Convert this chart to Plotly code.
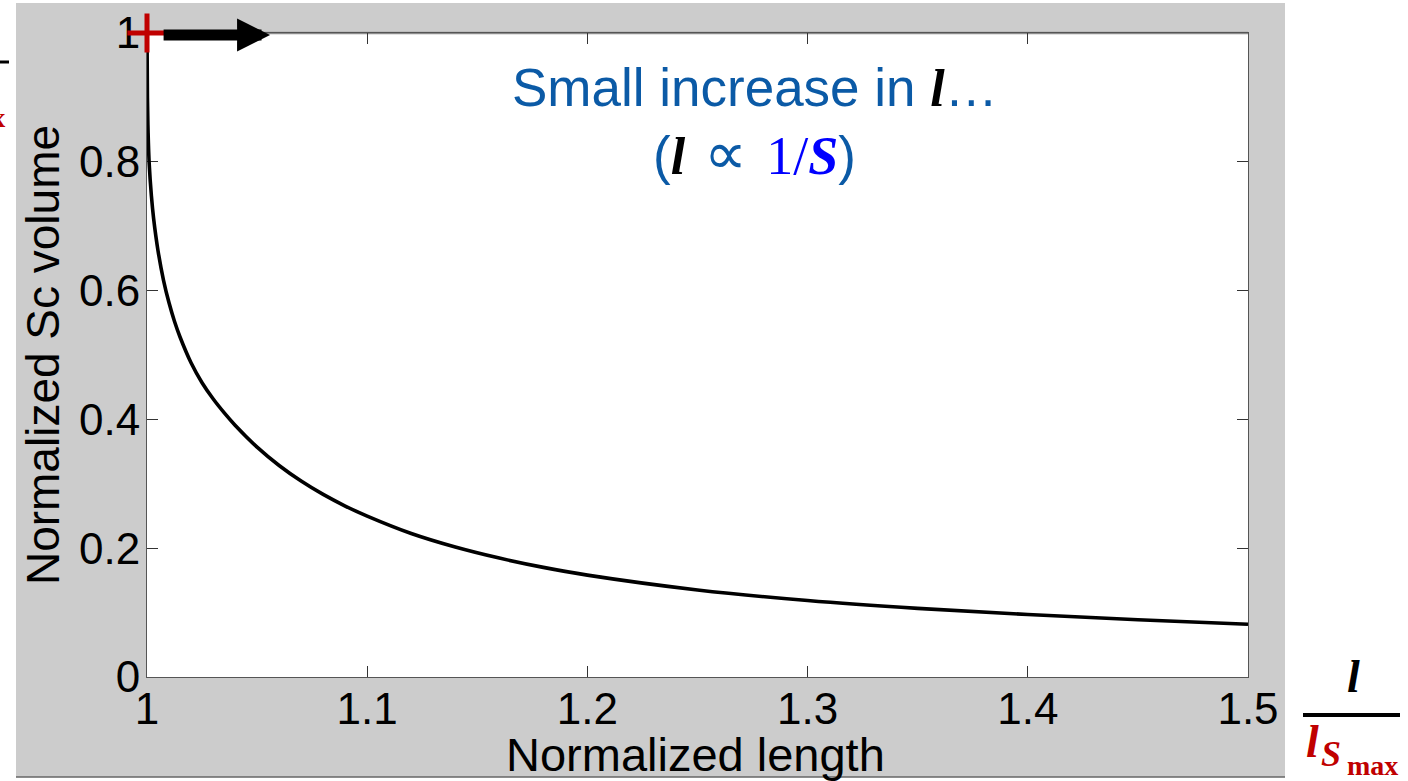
import plotly.graph_objects as go

# Normalized conductor length (l / l_Smax) and the matching normalized Sc volume
length = [1.0, 1.0002, 1.0005, 1.001, 1.002, 1.003, 1.005, 1.0075, 1.01,
          1.0125, 1.015, 1.02, 1.025, 1.03, 1.035, 1.04, 1.05, 1.06, 1.07, 1.08,
          1.09, 1.1, 1.12, 1.14, 1.16, 1.18, 1.2, 1.25, 1.3, 1.35, 1.4,
          1.45, 1.5]
volume = [1.0, 0.90, 0.845, 0.797, 0.747, 0.712, 0.662, 0.616, 0.581,
          0.552, 0.528, 0.488, 0.457, 0.432, 0.4105, 0.391, 0.357, 0.3285, 0.3043,
          0.2835, 0.2655, 0.2498, 0.2228, 0.2018, 0.1846, 0.1702, 0.1582, 0.1352,
          0.1187, 0.1065, 0.097, 0.089, 0.082]

# Starting operating point
start_point = [1.0, 1.0]

x_ticks = [1, 1.1, 1.2, 1.3, 1.4, 1.5]
y_ticks = [0, 0.2, 0.4, 0.6, 0.8, 1]

W, H = 1408, 781
L, R, T, B = 147, 1248, 33, 677   # plot area in pixels


def px_x(p):
    return (p - L) / (R - L)


def px_y(p):
    return (B - p) / (B - T)


SANS = "Liberation Sans, Arial, sans-serif"
SERIF = "Liberation Serif, Times New Roman, serif"
BLUE_TXT = "#0b5aa6"
RED = "#c00000"

fig = go.Figure()

fig.add_trace(go.Scatter(
    x=length, y=volume, mode="lines",
    line=dict(color="black", width=3.6, shape="spline", smoothing=1.0),
    hoverinfo="skip", showlegend=False,
))

fig.add_trace(go.Scatter(
    x=[start_point[0]], y=[start_point[1]], mode="markers",
    marker=dict(symbol="cross-thin", size=28, line=dict(color=RED, width=5)),
    cliponaxis=False, hoverinfo="skip", showlegend=False,
))

axis_common = dict(
    showgrid=False, zeroline=False, showline=True, linecolor="#555555",
    linewidth=1, mirror="ticks", ticks="inside", ticklen=11, tickwidth=1,
    tickcolor="#333333", tickfont=dict(family=SANS, size=44, color="black"),
    layer="below traces",
)

fig.update_xaxes(range=[1, 1.5], tickvals=x_ticks, ticklabelstandoff=-7,
                 **axis_common)
fig.update_yaxes(range=[0, 1], tickvals=y_ticks, ticklabelstandoff=-3,
                 title=dict(text="Normalized Sc volume",
                            font=dict(family=SANS, size=46, color="black"),
                            standoff=4),
                 **axis_common)

shapes = [
    # grey figure panel
    dict(type="rect", xref="paper", yref="paper",
         x0=px_x(16), x1=px_x(1285), y0=px_y(777), y1=px_y(3),
         fillcolor="#cccccc", line=dict(width=0), layer="below"),
    # white axes area
    dict(type="rect", xref="paper", yref="paper", x0=0, x1=1, y0=0, y1=1,
         fillcolor="white", line=dict(width=0), layer="below"),
    # top frame edge
    dict(type="line", xref="paper", yref="paper", x0=0, x1=1, y0=1, y1=1,
         line=dict(color="#8c8c8c", width=2.5), layer="below"),
    # panel bottom edge
    dict(type="line", xref="paper", yref="paper",
         x0=px_x(16), x1=px_x(1285), y0=px_y(777), y1=px_y(777),
         line=dict(color="#666666", width=1.5)),
    # fraction bar of l / l_Smax
    dict(type="line", xref="paper", yref="paper",
         x0=px_x(1303), x1=px_x(1400), y0=px_y(715), y1=px_y(715),
         line=dict(color="black", width=4)),
    # fraction bar at the left margin
    dict(type="line", xref="paper", yref="paper",
         x0=px_x(-20), x1=px_x(9), y0=px_y(62), y1=px_y(62),
         line=dict(color="black", width=3)),
]

l_span = ('<span style="font-family:Liberation Serif;color:black;font-size:52px">'
          '<b><i>l</i></b></span>')
prop_span = '<span style="font-family:DejaVu Sans;font-size:60px"> ∝ </span>'
inv_span = ('<span style="font-family:Liberation Serif;color:#0000ff;font-size:54px">'
            '1/<b><i>S</i></b></span>')
annotations = [
    dict(xref="paper", yref="paper", x=px_x(755), y=px_y(87),
         text="Small increase in " + l_span + "…",
         showarrow=False, xanchor="center", yanchor="middle",
         font=dict(family=SANS, size=53, color=BLUE_TXT)),
    dict(xref="paper", yref="paper", x=px_x(754), y=px_y(153),
         text="(" + l_span + prop_span + inv_span + ")",
         showarrow=False, xanchor="center", yanchor="middle",
         font=dict(family=SANS, size=53, color=BLUE_TXT)),
    # arrow pointing to increasing length
    dict(xref="x", yref="y", x=1.0559, y=0.997, ax=-108, ay=0, text="",
         showarrow=True, arrowhead=2, arrowsize=0.6, arrowwidth=11,
         arrowcolor="black"),
    # x-axis label
    dict(xref="paper", yref="paper", x=px_x(695), y=px_y(754),
         text="Normalized length", showarrow=False,
         xanchor="center", yanchor="middle",
         font=dict(family=SANS, size=47, color="black")),
    # l / l_Smax beside the x axis
    dict(xref="paper", yref="paper", x=px_x(1353), y=px_y(676), text="<b><i>l</i></b>",
         showarrow=False, xanchor="center", yanchor="middle",
         font=dict(family=SERIF, size=46, color="black")),
    dict(xref="paper", yref="paper", x=px_x(1312), y=px_y(741), text="<b><i>l</i></b>",
         showarrow=False, xanchor="center", yanchor="middle",
         font=dict(family=SERIF, size=46, color=RED)),
    dict(xref="paper", yref="paper", x=px_x(1331), y=px_y(754), text="<b><i>S</i></b>",
         showarrow=False, xanchor="center", yanchor="middle",
         font=dict(family=SERIF, size=36, color=RED)),
    dict(xref="paper", yref="paper", x=px_x(1372), y=px_y(765), text="<b>max</b>",
         showarrow=False, xanchor="center", yanchor="middle",
         font=dict(family=SERIF, size=28, color=RED)),
    # subscript at the left margin
    dict(xref="paper", yref="paper", x=px_x(7), y=px_y(117), text="<b>max</b>",
         showarrow=False, xanchor="right", yanchor="middle",
         font=dict(family=SERIF, size=28, color=RED)),
]

fig.update_layout(
    width=W, height=H,
    margin=dict(l=L, r=W - R, t=T, b=H - B, pad=0),
    paper_bgcolor="white", plot_bgcolor="rgba(0,0,0,0)",
    template="none",
    shapes=shapes, annotations=annotations,
    showlegend=False,
)

fig.write_html("out.html")
